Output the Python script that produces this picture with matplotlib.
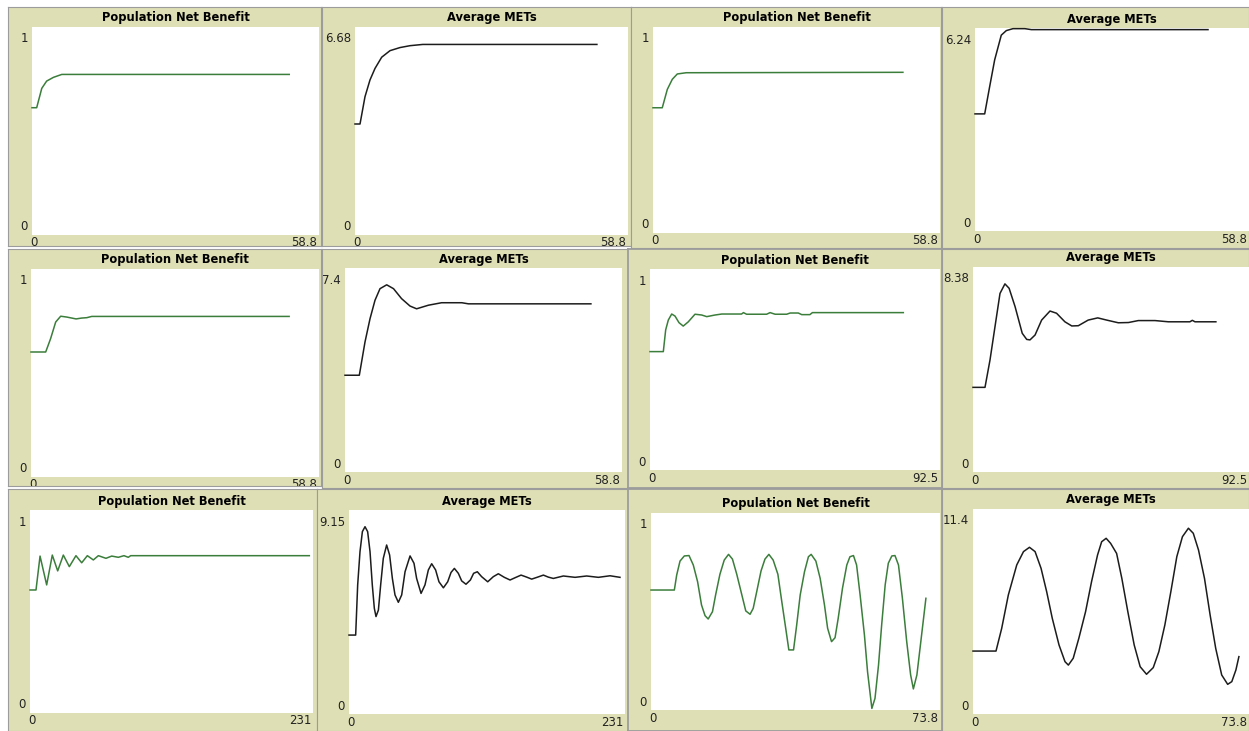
# 12 NetLogo-style plots: Population Net Benefit / Average METs
import matplotlib.pyplot as plt
from matplotlib.transforms import ScaledTranslation

W, H = 1249, 731

# panel titles and axis ranges
titles = ['Population Net Benefit', 'Average METs'] * 6
x_max = [58.8, 58.8, 58.8, 58.8, 58.8, 58.8, 92.5, 92.5, 231, 231, 73.8, 73.8]
y_max = [1, 6.68, 1, 6.24, 1, 7.4, 1, 8.38, 1, 9.15, 1, 11.4]
x_max_labels = ['58.8', '58.8', '58.8', '58.8', '58.8', '58.8', '92.5', '92.5', '231', '231', '73.8', '73.8']
y_max_labels = ['1', '6.68', '1', '6.24', '1', '7.4', '1', '8.38', '1', '9.15', '1', '11.4']

# series
p1_x = [0, 0.96, 2.0, 3.0, 4.4, 6.1, 52.7]
p1_y = [0.612, 0.612, 0.705, 0.74, 0.758, 0.772, 0.772]

p2_x = [0, 1.08, 2.15, 3.23, 4.31, 5.75, 7.54, 9.7, 11.85, 14.6, 52.1]
p2_y = [3.565, 3.565, 4.44, 4.98, 5.35, 5.71, 5.92, 6.02, 6.08, 6.12, 6.12]

p3_x = [0, 1.9, 2.93, 3.95, 4.98, 6.8, 51.2]
p3_y = [0.608, 0.608, 0.697, 0.746, 0.772, 0.778, 0.78]

p4_x = [0, 2.08, 3.15, 4.22, 5.64, 6.72, 8.15, 10.7, 12.1, 50.0]
p4_y = [3.60, 3.60, 4.44, 5.26, 6.02, 6.16, 6.22, 6.22, 6.19, 6.19]

p5_x = [0, 3.0, 4.0, 5.04, 6.06, 7.29, 9.2, 10.3, 11.4, 12.4, 52.7]
p5_y = [0.601, 0.601, 0.665, 0.745, 0.773, 0.769, 0.76, 0.764, 0.766, 0.772, 0.772]

p6_x = [0, 3.04, 4.25, 5.31, 6.37, 7.43, 8.85, 10.3, 12.0, 13.8, 15.2, 17.7, 20.5, 24.8, 26.2, 52.2]
p6_y = [3.51, 3.51, 4.72, 5.56, 6.23, 6.65, 6.79, 6.65, 6.29, 6.02, 5.92, 6.05, 6.14, 6.14, 6.10, 6.10]

p7_x = [0, 4.25, 5.0, 5.84, 6.92, 7.97, 9.25, 10.6, 12.2, 14.35, 16.5, 18.1, 20.7, 22.9,
        29.2, 29.8, 30.8, 37.2, 38.3, 39.9, 43.6, 44.7, 47.3, 48.4, 51.0, 51.8, 80.8]
p7_y = [0.589, 0.589, 0.697, 0.746, 0.776, 0.766, 0.733, 0.716, 0.737, 0.775, 0.771, 0.763, 0.771, 0.776,
        0.776, 0.783, 0.775, 0.775, 0.783, 0.775, 0.775, 0.781, 0.781, 0.773, 0.773, 0.783, 0.783]

p8_x = [0, 4.02, 5.70, 7.37, 9.05, 10.7, 12.1, 14.1, 16.5, 18.0, 19.1, 20.8, 23.0, 25.8, 28.0,
        30.8, 33.1, 35.3, 38.6, 41.8, 44.8, 48.7, 52.1, 55.4, 61.0, 65.5, 72.7, 73.5, 74.4, 81.4]
p8_y = [3.46, 3.46, 4.58, 5.94, 7.30, 7.69, 7.51, 6.76, 5.67, 5.42, 5.40, 5.60, 6.21, 6.58, 6.49,
        6.14, 5.97, 5.98, 6.21, 6.30, 6.21, 6.10, 6.11, 6.19, 6.19, 6.14, 6.14, 6.20, 6.14, 6.14]

p9_x = [0, 4.9, 8.2, 13.6, 18.2, 22.6, 27.2, 32.1, 37.5, 42.2, 46.8, 51.7, 55.8, 62.0,
        66.7, 72.1, 76.7, 80.2, 82.2, 228.0]
p9_y = [0.606, 0.606, 0.773, 0.631, 0.778, 0.700, 0.778, 0.721, 0.775, 0.740, 0.775, 0.754, 0.775, 0.762,
        0.773, 0.767, 0.775, 0.767, 0.775, 0.775]

p10_x = [0, 5.58, 7.26, 9.2, 11.2, 13.4, 15.6, 17.6, 19.5, 21.2, 22.6, 24.6, 26.5, 28.7, 31.5,
         34.0, 36.3, 38.5, 41.3, 44.1, 46.9, 51.1, 54.4, 56.6, 60.3, 63.6, 66.4, 69.2, 72.5,
         75.3, 79.0, 82.6, 85.4, 88.2, 91.5, 94.3, 97.9, 101.6, 104.3, 107.4, 111.0, 116.1,
         120.8, 125.0, 130.0, 134.8, 138.9, 144.0, 148.7, 152.9, 157.9, 162.7, 166.8, 171.0,
         179.4, 189.2, 198.9, 208.7, 218.5, 226.8]
p10_y = [3.54, 3.54, 5.79, 7.28, 8.18, 8.40, 8.18, 7.28, 5.79, 4.74, 4.37, 4.66, 5.79, 6.98, 7.58,
         7.13, 6.08, 5.34, 5.01, 5.34, 6.38, 7.09, 6.76, 6.08, 5.41, 5.79, 6.46, 6.74, 6.46,
         5.93, 5.66, 5.93, 6.35, 6.53, 6.31, 5.97, 5.82, 6.01, 6.31, 6.38, 6.16, 5.93,
         6.16, 6.29, 6.13, 6.01, 6.11, 6.23, 6.14, 6.05, 6.14, 6.23, 6.14, 6.08,
         6.19, 6.13, 6.19, 6.13, 6.20, 6.13]

p11_x = [0, 5.96, 6.56, 7.41, 8.51, 9.71, 10.8, 11.9, 12.9, 13.8, 14.6, 15.7, 16.5, 17.6, 18.7,
         19.8, 20.8, 21.9, 23.2, 24.2, 25.3, 26.1, 27.0, 28.1, 29.1, 30.1, 31.2, 32.4, 33.4,
         34.4, 35.2, 36.4, 37.2, 38.1, 39.2, 40.2, 40.9, 42.1, 43.2, 44.3, 45.1, 46.1, 47.0,
         47.8, 48.9, 50.0, 50.8, 51.7, 52.5, 53.4, 54.5, 55.3, 56.4, 57.2, 58.1, 58.9, 59.8,
         60.6, 61.5, 62.3, 63.2, 64.2, 65.3, 66.3, 67.0, 67.9, 68.7, 69.6, 70.2]
p11_y = [0.609, 0.609, 0.685, 0.756, 0.782, 0.784, 0.736, 0.651, 0.533, 0.479, 0.462, 0.499, 0.584, 0.689, 0.761,
         0.790, 0.766, 0.689, 0.584, 0.503, 0.486, 0.516, 0.601, 0.706, 0.766, 0.790, 0.761, 0.689, 0.550,
         0.415, 0.305, 0.305, 0.431, 0.584, 0.702, 0.778, 0.790, 0.756, 0.668, 0.533, 0.415, 0.347, 0.367,
         0.465, 0.618, 0.736, 0.778, 0.784, 0.736, 0.584, 0.381, 0.194, 0.008, 0.059, 0.228, 0.431, 0.635,
         0.745, 0.782, 0.784, 0.736, 0.567, 0.347, 0.178, 0.107, 0.178, 0.313, 0.465, 0.567]

p12_x = [0, 6.15, 7.67, 9.45, 11.7, 13.5, 15.1, 16.6, 18.2, 19.7, 21.2, 23.0, 24.6, 25.5, 26.8,
         28.3, 30.1, 31.7, 33.3, 34.4, 35.6, 36.8, 38.4, 39.8, 41.4, 43.1, 44.7, 46.4, 48.2,
         49.7, 51.3, 52.9, 54.5, 56.0, 57.6, 58.9, 60.3, 61.9, 63.4, 64.9, 66.5, 68.1, 69.2,
         70.3, 71.1]
p12_y = [3.50, 3.50, 4.76, 6.62, 8.29, 9.03, 9.27, 9.03, 8.10, 6.80, 5.32, 3.84, 2.91, 2.72, 3.10,
         4.21, 5.69, 7.36, 8.84, 9.58, 9.77, 9.49, 8.93, 7.54, 5.69, 3.84, 2.63, 2.21, 2.58,
         3.47, 4.95, 6.80, 8.75, 9.86, 10.33, 10.05, 9.12, 7.54, 5.51, 3.65, 2.17, 1.65, 1.80,
         2.45, 3.19]

series = [(p1_x, p1_y), (p2_x, p2_y), (p3_x, p3_y), (p4_x, p4_y),
          (p5_x, p5_y), (p6_x, p6_y), (p7_x, p7_y), (p8_x, p8_y),
          (p9_x, p9_y), (p10_x, p10_y), (p11_x, p11_y), (p12_x, p12_y)]

# widget layout in pixels (left, top, right, bottom)
frames = [(8, 7, 321, 246), (322, 7, 631, 246), (631, 7, 941, 248), (942, 7, 1249, 248),
          (8, 249, 321, 486), (322, 249, 628, 488), (628, 249, 942, 488), (942, 249, 1249, 488),
          (8, 489, 317, 731), (317, 489, 628, 731), (628, 489, 942, 731), (942, 489, 1249, 731)]
plots = [(32, 27, 319, 235), (355, 27, 628, 235), (653, 27, 940, 233), (975, 28, 1249, 231),
         (31, 269, 319, 477), (345, 268, 622, 472), (650, 269, 940, 470), (973, 267, 1249, 472),
         (30, 510, 313, 713), (349, 510, 625, 714), (651, 513, 940, 710), (973, 509, 1249, 714)]

beige = '#dfdfb5'
green = '#3b7d3b'
black = '#1c1c1c'
plt.rcParams['font.family'] = ['DejaVu Sans']


def fig_rect(x0, y0, x1, y1):
    return [x0 / W, 1 - y1 / H, (x1 - x0) / W, (y1 - y0) / H]


fig = plt.figure(figsize=(W / 100, H / 100), dpi=100)
fig.patch.set_facecolor('white')


def px(dx, dy):
    return ScaledTranslation(dx / 100, dy / 100, fig.dpi_scale_trans)


for i in range(12):
    fa = fig.add_axes(fig_rect(*frames[i]))
    fa.set_facecolor(beige)
    fa.set_xticks([])
    fa.set_yticks([])
    for s in fa.spines.values():
        s.set_color('#9c9c9c')
        s.set_linewidth(1.3 if i in (6, 10) else 0.8)

    ax = fig.add_axes(fig_rect(*plots[i]))
    ax.set_facecolor('white')
    for s in ax.spines.values():
        s.set_visible(False)
    ax.set_xticks([])
    ax.set_yticks([])
    ax.set_xlim(0, x_max[i])
    ax.set_ylim(0, y_max[i])

    xs, ys = series[i]
    ax.plot(xs, ys, color=green if i % 2 == 0 else black, lw=1.1, clip_on=False)

    txts = []
    txts.append(ax.text(0.5, 1, titles[i], transform=ax.transAxes + px(0, 9),
                        ha='center', va='center', fontsize=8.3, fontweight='bold', color='black'))
    txts.append(ax.text(0, y_max[i], y_max_labels[i], transform=ax.transData + px(-4, -12),
                        ha='right', va='center', fontsize=8.5, color='#222222'))
    txts.append(ax.text(0, 0, '0', transform=ax.transData + px(-4, 8),
                        ha='right', va='center', fontsize=8.5, color='#222222'))
    txts.append(ax.text(0, 0, '0', transform=ax.transData + px(1.5, -8),
                        ha='center', va='center', fontsize=8.5, color='#222222'))
    txts.append(ax.text(x_max[i], 0, x_max_labels[i], transform=ax.transData + px(-2, -8),
                        ha='right', va='center', fontsize=8.5, color='#222222'))
    for t in txts:
        t.set_clip_on(True)
        t.set_clip_box(fa.bbox)

fig.savefig('out.png', dpi=100, facecolor='white')
